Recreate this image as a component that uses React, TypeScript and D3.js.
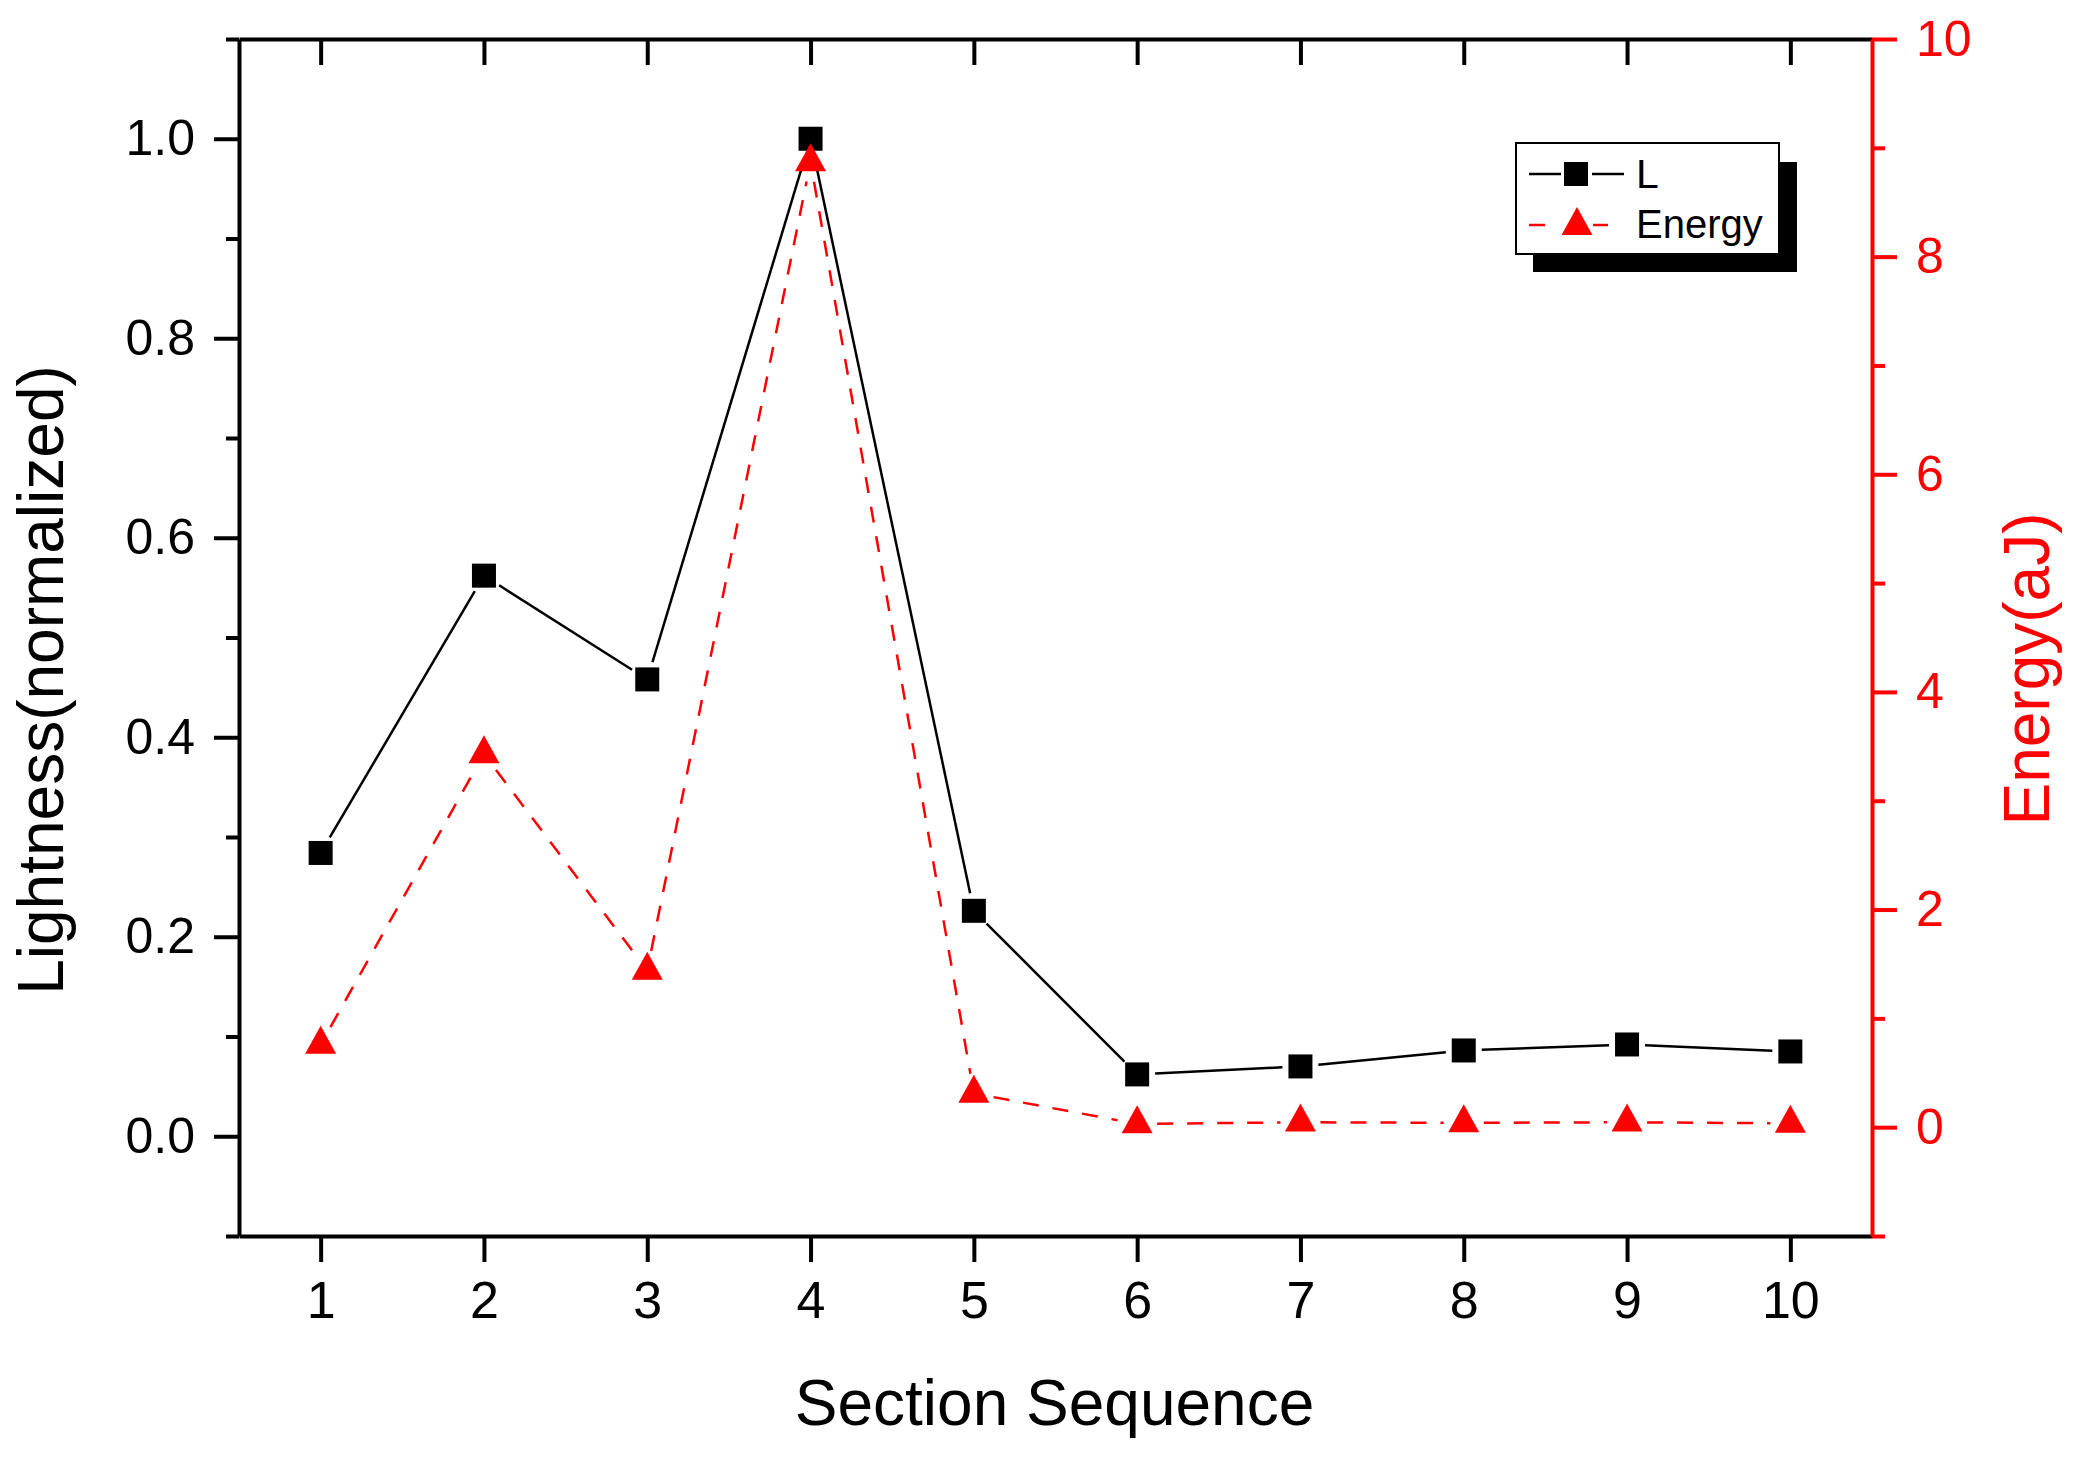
import React, { useEffect, useRef } from "react";
import * as d3 from "d3";

const sections = [1, 2, 3, 4, 5, 6, 7, 8, 9, 10];
const lightness = [0.284, 0.562, 0.458, 1.0, 0.226, 0.062, 0.07, 0.086, 0.092, 0.085];
const energy = [0.76, 3.43, 1.44, 8.87, 0.31, 0.03, 0.045, 0.04, 0.045, 0.035];

const leftMajorTicks = [0, 0.2, 0.4, 0.6, 0.8, 1.0];
const leftMinorTicks = [-0.1, 0.1, 0.3, 0.5, 0.7, 0.9, 1.1];
const rightMajorTicks = [0, 2, 4, 6, 8, 10];
const rightMinorTicks = [-1, 1, 3, 5, 7, 9];

const W = 2081;
const H = 1457;
const FONT = "'Liberation Sans', Arial, sans-serif";
const RED = "#ff0000";

// plot frame (pixels)
const left = 239;
const right = 1872;
const top = 39;
const bottom = 1236;

// segments between points, cut back near the markers
function gapSegments(pts: [number, number][], gap: number) {
	const segs: [number, number, number, number][] = [];
	for (let i = 0; i < pts.length - 1; i++) {
		const [x1, y1] = pts[i];
		const [x2, y2] = pts[i + 1];
		const d = Math.hypot(x2 - x1, y2 - y1);
		if (d <= gap * 2) continue;
		const ux = (x2 - x1) / d;
		const uy = (y2 - y1) / d;
		segs.push([x1 + ux * gap, y1 + uy * gap, x2 - ux * gap, y2 - uy * gap]);
	}
	return segs;
}

function trianglePath(cx: number, cy: number, w: number, h: number) {
	// centroid at (cx, cy)
	const apex = cy - (2 / 3) * h;
	const base = cy + h / 3;
	return `M${cx},${apex}L${cx + w / 2},${base}L${cx - w / 2},${base}Z`;
}

export default function App() {
	const svgRef = useRef<SVGSVGElement>(null);

	useEffect(() => {
		const svg = d3.select(svgRef.current);
		svg.selectAll("*").remove();

		const x = d3.scaleLinear().domain([0.5, 10.5]).range([left, right]);
		const yL = d3.scaleLinear().domain([-0.1, 1.1]).range([bottom, top]);
		const yR = d3.scaleLinear().domain([-1, 10]).range([bottom, top]);

		const styleAxis = (g: any, color: string, size: number) => {
			g.attr("font-family", FONT).attr("font-size", size);
			g.selectAll("line").attr("stroke", color).attr("stroke-width", 4);
			g.selectAll("path").attr("stroke", color).attr("stroke-width", 4);
			g.selectAll("text").attr("fill", color);
		};

		// bottom axis
		const gB = svg
			.append("g")
			.attr("transform", `translate(0,${bottom})`)
			.call(
				d3
					.axisBottom(x)
					.tickValues(sections)
					.tickSize(26)
					.tickSizeOuter(0)
					.tickPadding(19)
					.tickFormat(d3.format("d")),
			);
		styleAxis(gB, "#000", 52);

		// top axis (ticks inward)
		const gT = svg
			.append("g")
			.attr("transform", `translate(0,${top})`)
			.call(d3.axisTop(x).tickValues(sections).tickSize(-26).tickSizeOuter(0).tickFormat(() => ""));
		styleAxis(gT, "#000", 52);

		// left axis
		const gL = svg
			.append("g")
			.attr("transform", `translate(${left},0)`)
			.call(
				d3
					.axisLeft(yL)
					.tickValues(leftMajorTicks)
					.tickSize(25)
					.tickSizeOuter(0)
					.tickPadding(19)
					.tickFormat(d3.format(".1f")),
			);
		styleAxis(gL, "#000", 50);
		const gLm = svg
			.append("g")
			.attr("transform", `translate(${left},0)`)
			.call(d3.axisLeft(yL).tickValues(leftMinorTicks).tickSize(13).tickFormat(() => ""));
		gLm.select(".domain").remove();
		styleAxis(gLm, "#000", 50);

		// right axis
		const gR = svg
			.append("g")
			.attr("transform", `translate(${right},0)`)
			.call(
				d3
					.axisRight(yR)
					.tickValues(rightMajorTicks)
					.tickSize(25)
					.tickSizeOuter(0)
					.tickPadding(19)
					.tickFormat(d3.format("d")),
			);
		styleAxis(gR, RED, 50);
		const gRm = svg
			.append("g")
			.attr("transform", `translate(${right},0)`)
			.call(d3.axisRight(yR).tickValues(rightMinorTicks).tickSize(13).tickFormat(() => ""));
		gRm.select(".domain").remove();
		styleAxis(gRm, RED, 50);

		// axis titles
		svg
			.append("text")
			.attr("x", (left + right) / 2 - 1)
			.attr("y", 1425)
			.attr("text-anchor", "middle")
			.attr("font-family", FONT)
			.attr("font-size", 64)
			.text("Section Sequence");

		svg
			.append("text")
			.attr("transform", "translate(63,680) rotate(-90)")
			.attr("text-anchor", "middle")
			.attr("font-family", FONT)
			.attr("font-size", 64)
			.text("Lightness(normalized)");

		svg
			.append("text")
			.attr("transform", "translate(2049,669) rotate(-90)")
			.attr("text-anchor", "middle")
			.attr("font-family", FONT)
			.attr("font-size", 64)
			.attr("fill", RED)
			.text("Energy(aJ)");

		// L series
		const ptsL: [number, number][] = sections.map((s, i) => [x(s), yL(lightness[i])]);
		svg
			.append("g")
			.selectAll("line")
			.data(gapSegments(ptsL, 18))
			.join("line")
			.attr("x1", (d) => d[0])
			.attr("y1", (d) => d[1])
			.attr("x2", (d) => d[2])
			.attr("y2", (d) => d[3])
			.attr("stroke", "#000")
			.attr("stroke-width", 2.5);
		svg
			.append("g")
			.selectAll("rect")
			.data(ptsL)
			.join("rect")
			.attr("x", (d) => d[0] - 12)
			.attr("y", (d) => d[1] - 12)
			.attr("width", 24)
			.attr("height", 24)
			.attr("fill", "#000");

		// Energy series
		const ptsE: [number, number][] = sections.map((s, i) => [x(s), yR(energy[i])]);
		svg
			.append("g")
			.selectAll("line")
			.data(gapSegments(ptsE, 20))
			.join("line")
			.attr("x1", (d) => d[0])
			.attr("y1", (d) => d[1])
			.attr("x2", (d) => d[2])
			.attr("y2", (d) => d[3])
			.attr("stroke", RED)
			.attr("stroke-width", 2.5)
			.attr("stroke-dasharray", "16,14");
		svg
			.append("g")
			.selectAll("path")
			.data(ptsE)
			.join("path")
			.attr("d", (d) => trianglePath(d[0], d[1], 31, 28))
			.attr("fill", RED);

		// legend
		const lg = svg.append("g");
		lg.append("rect").attr("x", 1533).attr("y", 162).attr("width", 264).attr("height", 110).attr("fill", "#000");
		lg.append("rect")
			.attr("x", 1516)
			.attr("y", 143)
			.attr("width", 263)
			.attr("height", 111)
			.attr("fill", "#fff")
			.attr("stroke", "#000")
			.attr("stroke-width", 2);
		lg.append("line").attr("x1", 1529).attr("x2", 1561).attr("y1", 174).attr("y2", 174).attr("stroke", "#000").attr("stroke-width", 2.5);
		lg.append("line").attr("x1", 1592).attr("x2", 1624).attr("y1", 174).attr("y2", 174).attr("stroke", "#000").attr("stroke-width", 2.5);
		lg.append("rect").attr("x", 1564).attr("y", 162).attr("width", 24).attr("height", 24).attr("fill", "#000");
		lg.append("line").attr("x1", 1529).attr("x2", 1545).attr("y1", 225).attr("y2", 225).attr("stroke", RED).attr("stroke-width", 2.5);
		lg.append("line").attr("x1", 1593).attr("x2", 1608).attr("y1", 225).attr("y2", 225).attr("stroke", RED).attr("stroke-width", 2.5);
		lg.append("path").attr("d", trianglePath(1577, 225.7, 31, 28)).attr("fill", RED);
		lg.append("text").attr("x", 1636).attr("y", 188).attr("font-family", FONT).attr("font-size", 41).text("L");
		lg.append("text").attr("x", 1636).attr("y", 238).attr("font-family", FONT).attr("font-size", 40).text("Energy");
	}, []);

	return (
		<svg
			ref={svgRef}
			width={W}
			height={H}
			style={{ position: "absolute", left: 0, top: 0, background: "#fff", display: "block" }}
		></svg>
	);
}
